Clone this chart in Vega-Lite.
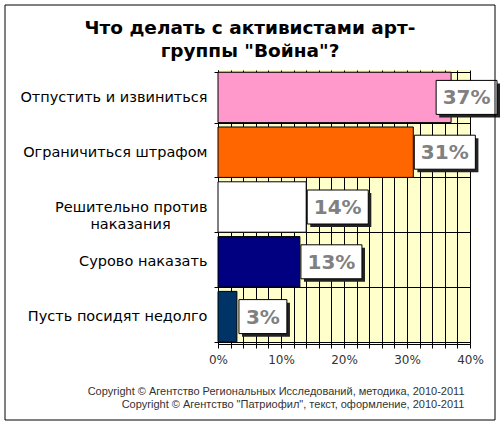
{
  "$schema": "https://vega.github.io/schema/vega-lite/v6.json",
  "width": 252,
  "height": 274,
  "autosize": {"type": "none"},
  "padding": {"left": 218, "top": 70, "right": 30, "bottom": 82},
  "background": "white",
  "config": {
    "view": {"fill": "#FFFFCC", "stroke": null},
    "font": "DejaVu Sans"
  },
  "title": {
    "text": ["Что делать с активистами арт-", "группы \"Война\"?"],
    "fontSize": 18.5,
    "fontWeight": "bold",
    "color": "black",
    "font": "DejaVu Sans",
    "anchor": "middle",
    "baseline": "bottom",
    "dx": -94,
    "dy": 85,
    "lineHeight": 23,
    "offset": 10
  },
  "data": {
    "values": [
      {"answer": "Отпустить и извиниться", "pct": 37, "label": "37%"},
      {"answer": "Ограничиться штрафом", "pct": 31, "label": "31%"},
      {"answer": "Решительно против наказания", "pct": 14, "label": "14%"},
      {"answer": "Сурово наказать", "pct": 13, "label": "13%"},
      {"answer": "Пусть посидят недолго", "pct": 3, "label": "3%"}
    ]
  },
  "encoding": {
    "y": {
      "field": "answer",
      "type": "nominal",
      "sort": null,
      "scale": {"paddingInner": 0.08, "paddingOuter": 0.04},
      "axis": {
        "title": null,
        "domainColor": "black",
        "tickColor": "black",
        "tickSize": 4,
        "tickBand": "extent",
        "grid": true,
        "gridColor": "black",
        "gridOpacity": 1,
        "labelFontSize": 14.5,
        "labelColor": "black",
        "labelPadding": 7,
        "labelLimit": 0,
        "labelLineHeight": 17,
        "labelExpr": "datum.label == 'Решительно против наказания' ? ['Решительно против', 'наказания\u00a0\u00a0\u00a0\u00a0\u00a0\u00a0\u00a0\u00a0\u200b'] : datum.label"
      }
    },
    "x": {
      "field": "pct",
      "type": "quantitative",
      "scale": {"domain": [0, 40], "nice": false},
      "axis": {
        "values": [0, 2, 4, 6, 8, 10, 12, 14, 16, 18, 20, 22, 24, 26, 28, 30, 32, 34, 36, 38, 40],
        "labelExpr": "datum.value % 10 == 0 ? datum.value + '%' : ''",
        "labelOverlap": false,
        "labelFlush": false,
        "labelBound": false,
        "grid": true,
        "gridColor": "black",
        "gridOpacity": 1,
        "domainColor": "black",
        "tickColor": "black",
        "tickSize": 4,
        "labelFontSize": 12,
        "labelColor": "#333333",
        "labelPadding": 6,
        "title": [
          "Copyright © Агентство Региональных Исследований, методика, 2010-2011",
          "Copyright © Агентство \"Патриофил\", текст, оформление, 2010-2011"
        ],
        "titleFont": "Liberation Sans",
        "titleFontSize": 11,
        "titleFontWeight": "normal",
        "titleColor": "#333333",
        "titleAnchor": "end",
        "titleAlign": "right",
        "titleBaseline": "top",
        "titleLineHeight": 13,
        "titleX": 246,
        "titleY": 41
      }
    }
  },
  "layer": [
    {
      "mark": {"type": "bar", "stroke": "black", "strokeWidth": 1},
      "encoding": {
        "color": {
          "field": "answer",
          "type": "nominal",
          "scale": {
            "domain": ["Отпустить и извиниться", "Ограничиться штрафом", "Решительно против наказания", "Сурово наказать", "Пусть посидят недолго"],
            "range": ["#FF99CC", "#FF6600", "#FFFFFF", "#000080", "#003366"]
          },
          "legend": null
        }
      }
    },
    {
      "mark": {"type": "point", "filled": true, "fill": "#222222", "strokeWidth": 0, "opacity": 1, "size": 1156},
      "encoding": {
        "shape": {
          "condition": [
            {"test": "datum.pct == 37", "value": "M-0.7,-0.82H2.88V1.18H-0.7Z"},
            {"test": "datum.pct == 3", "value": "M0.3,-0.82H3.12V1.18H0.3Z"}
          ],
          "value": "M0.24,-0.82H3.83V1.18H0.24Z"
        }
      }
    },
    {
      "mark": {"type": "point", "filled": true, "fill": "white", "stroke": "black", "strokeWidth": 1, "opacity": 1, "size": 1156},
      "encoding": {
        "shape": {
          "condition": [
            {"test": "datum.pct == 37", "value": "M-0.88,-1H2.7V1H-0.88Z"},
            {"test": "datum.pct == 3", "value": "M0.12,-1H2.94V1H0.12Z"}
          ],
          "value": "M0.06,-1H3.65V1H0.06Z"
        }
      }
    },
    {
      "transform": [{"filter": "datum.pct == 37"}],
      "mark": {"type": "text", "align": "center", "baseline": "middle", "dx": 15.5, "dy": 1, "fontSize": 20, "fontWeight": "bold", "color": "#808080"},
      "encoding": {"text": {"field": "label"}}
    },
    {
      "transform": [{"filter": "datum.pct == 3"}],
      "mark": {"type": "text", "align": "center", "baseline": "middle", "dx": 26, "dy": 1, "fontSize": 20, "fontWeight": "bold", "color": "#808080"},
      "encoding": {"text": {"field": "label"}}
    },
    {
      "transform": [{"filter": "datum.pct != 37 && datum.pct != 3"}],
      "mark": {"type": "text", "align": "center", "baseline": "middle", "dx": 31.5, "dy": 1, "fontSize": 20, "fontWeight": "bold", "color": "#808080"},
      "encoding": {"text": {"field": "label"}}
    },
    {
      "data": {"values": [{}]},
      "mark": {"type": "rect", "fill": "transparent", "stroke": "black", "strokeWidth": 1},
      "encoding": {
        "x": {"value": -213},
        "x2": {"value": 277},
        "y": {"value": -65},
        "y2": {"value": 350}
      }
    }
  ]
}
